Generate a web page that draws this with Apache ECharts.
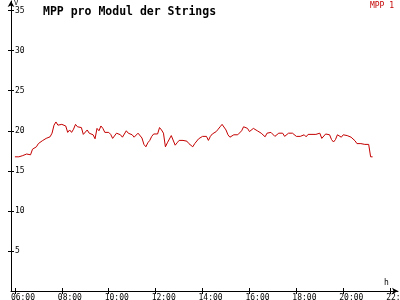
<!DOCTYPE html>
<html>
<head>
<meta charset="utf-8">
<script src="https://cdn.jsdelivr.net/npm/echarts@6/dist/echarts.min.js"></script>
<style>html,body{margin:0;padding:0;background:#fff}#c{width:400px;height:300px}</style>
</head>
<body>
<div id="c"></div>
<script>
var times = ["06:00","06:05","06:10","06:15","06:20","06:25","06:30","06:35","06:40","06:45","06:50","06:55",
"07:00","07:05","07:10","07:15","07:20","07:25","07:30","07:35","07:40","07:45","07:50","07:55",
"08:00","08:05","08:10","08:15","08:20","08:25","08:30","08:35","08:40","08:45","08:50","08:55",
"09:00","09:05","09:10","09:15","09:20","09:25","09:30","09:35","09:40","09:45","09:50","09:55",
"10:00","10:05","10:10","10:15","10:20","10:25","10:30","10:35","10:40","10:45","10:50","10:55",
"11:00","11:05","11:10","11:15","11:20","11:25","11:30","11:35","11:40","11:45","11:50","11:55",
"12:00","12:05","12:10","12:15","12:20","12:25","12:30","12:35","12:40","12:45","12:50","12:55",
"13:00","13:05","13:10","13:15","13:20","13:25","13:30","13:35","13:40","13:45","13:50","13:55",
"14:00","14:05","14:10","14:15","14:20","14:25","14:30","14:35","14:40","14:45","14:50","14:55",
"15:00","15:05","15:10","15:15","15:20","15:25","15:30","15:35","15:40","15:45","15:50","15:55",
"16:00","16:05","16:10","16:15","16:20","16:25","16:30","16:35","16:40","16:45","16:50","16:55",
"17:00","17:05","17:10","17:15","17:20","17:25","17:30","17:35","17:40","17:45","17:50","17:55",
"18:00","18:05","18:10","18:15","18:20","18:25","18:30","18:35","18:40","18:45","18:50","18:55",
"19:00","19:05","19:10","19:15","19:20","19:25","19:30","19:35","19:40","19:45","19:50","19:55",
"20:00","20:05","20:10","20:15","20:20","20:25","20:30","20:35","20:40","20:45","20:50","20:55",
"21:00","21:05","21:10","21:15"];
var mpp1 = [16.75,16.75,16.75,16.75,16.9,16.8,17.1,17.05,17.0,17.7,17.5,18.0,
18.4,18.55,18.75,18.6,19.05,19.15,19.25,19.7,20.7,21.1,20.7,20.8,
20.8,20.9,20.6,19.8,20.1,19.8,20.2,20.8,20.5,20.3,20.4,19.55,
19.7,20.1,19.7,19.5,19.5,19.0,20.3,20.0,20.6,20.3,19.8,19.8,
19.8,19.55,19.05,19.05,19.7,19.5,19.5,19.2,19.25,20.0,19.7,19.7,
19.5,19.2,19.4,19.7,19.6,19.1,18.3,18.0,18.5,18.8,19.3,19.6,
19.5,19.6,20.4,20.1,19.7,18.0,18.5,18.7,19.4,19.4,18.2,18.5,
18.8,18.8,18.8,18.8,18.7,18.4,18.6,18.0,18.4,18.6,19.0,19.0,
19.3,19.3,19.3,18.8,19.3,19.6,19.6,19.9,20.2,20.5,20.8,20.6,
20.1,19.5,19.2,19.0,19.5,19.5,19.5,19.7,20.0,20.5,20.5,20.3,
19.9,20.0,20.3,20.2,20.0,19.8,19.7,19.5,19.25,19.7,19.7,19.8,
20.0,19.3,19.3,19.7,19.9,19.7,19.3,19.5,19.7,19.7,19.7,19.55,
19.3,19.3,19.3,19.3,19.5,19.25,19.55,19.75,19.55,19.55,19.55,19.55,
19.7,19.05,19.05,19.6,19.5,19.5,18.9,18.6,18.9,19.5,19.3,19.2,
19.5,19.4,19.4,19.25,19.2,19.05,18.75,18.4,18.4,18.4,18.3,18.3,
18.3,18.3,16.75,16.75];
var xTicks = [6, 8, 10, 12, 14, 16, 18, 20, 22];
var yTicks = [5, 10, 15, 20, 25, 30, 35];
var seriesName = "MPP 1";
var titleText = "MPP pro Modul der Strings";

function toHours(s) { var p = s.split(":"); return +p[0] + (+p[1]) / 60; }
function fmt(v) { var h = Math.round(v); return (h < 10 ? "0" : "") + h + ":00"; }
var data = times.map(function (t, i) { return [toHours(t), mpp1[i]]; });

var FONT = "DejaVu Sans Mono";
var RED = "#c40000";
var xMin = 5 + 50 / 60, xMax = 22 + 20 / 60, yMax = 36.2;

var chart = echarts.init(document.getElementById("c"), null, { renderer: "canvas" });
chart.setOption({
  animation: false,
  backgroundColor: "#ffffff",
  title: {
    text: titleText, left: 38, top: 1,
    textStyle: { fontFamily: FONT, fontWeight: "bold", fontSize: 11.5, color: "#000" }
  },
  legend: {
    data: [seriesName], right: 1, top: -3, icon: "none", itemWidth: 0, itemHeight: 0, itemGap: 0,
    textStyle: { fontFamily: FONT, fontSize: 8, color: RED }
  },
  grid: { left: 11, right: 2, top: 1, bottom: 9, containLabel: false, outerBoundsMode: "none" },
  xAxis: [{
    type: "value", min: xMin, max: xMax, name: "h", nameLocation: "end", nameGap: -14,
    nameTextStyle: { fontFamily: FONT, fontSize: 8, color: "#000", verticalAlign: "bottom", padding: [0, 0, 4, 0] },
    axisLine: { show: true, lineStyle: { color: "#000", width: 1 }, symbol: ["none", "arrow"], symbolSize: [5, 6] },
    axisTick: { show: true, length: 3, lineStyle: { color: "#000" }, customValues: xTicks },
    axisLabel: { show: true, customValues: xTicks, formatter: fmt, fontFamily: FONT, fontSize: 8, color: "#000", margin: 3, align: "left", padding: [0, 0, 0, -4], hideOverlap: false },
    splitLine: { show: false }
  }, {
    type: "value", min: xMin, max: xMax, position: "bottom",
    axisLine: { show: false },
    axisTick: { show: true, inside: true, length: 3, lineStyle: { color: "#000" }, customValues: xTicks },
    axisLabel: { show: false }, splitLine: { show: false }
  }],
  yAxis: [{
    type: "value", min: 0, max: yMax, name: "V", nameLocation: "end", nameGap: -8,
    nameTextStyle: { fontFamily: FONT, fontSize: 7, color: "#000", align: "left", padding: [0, 0, 0, 3] },
    axisLine: { show: true, lineStyle: { color: "#000", width: 1 }, symbol: ["none", "arrow"], symbolSize: [5, 6] },
    axisTick: { show: true, length: 3, lineStyle: { color: "#000" }, customValues: yTicks },
    axisLabel: { show: true, inside: true, customValues: yTicks, fontFamily: FONT, fontSize: 8, color: "#000", margin: 4 },
    splitLine: { show: false }
  }, {
    type: "value", min: 0, max: yMax, position: "left",
    axisLine: { show: false },
    axisTick: { show: true, inside: true, length: 3, lineStyle: { color: "#000" }, customValues: yTicks },
    axisLabel: { show: false }, splitLine: { show: false }
  }],
  series: [{
    name: seriesName, type: "line", data: data, xAxisIndex: 0, yAxisIndex: 0,
    showSymbol: false, symbol: "none", lineStyle: { color: RED, width: 1 }, itemStyle: { color: RED }
  }]
});
</script>
</body>
</html>
